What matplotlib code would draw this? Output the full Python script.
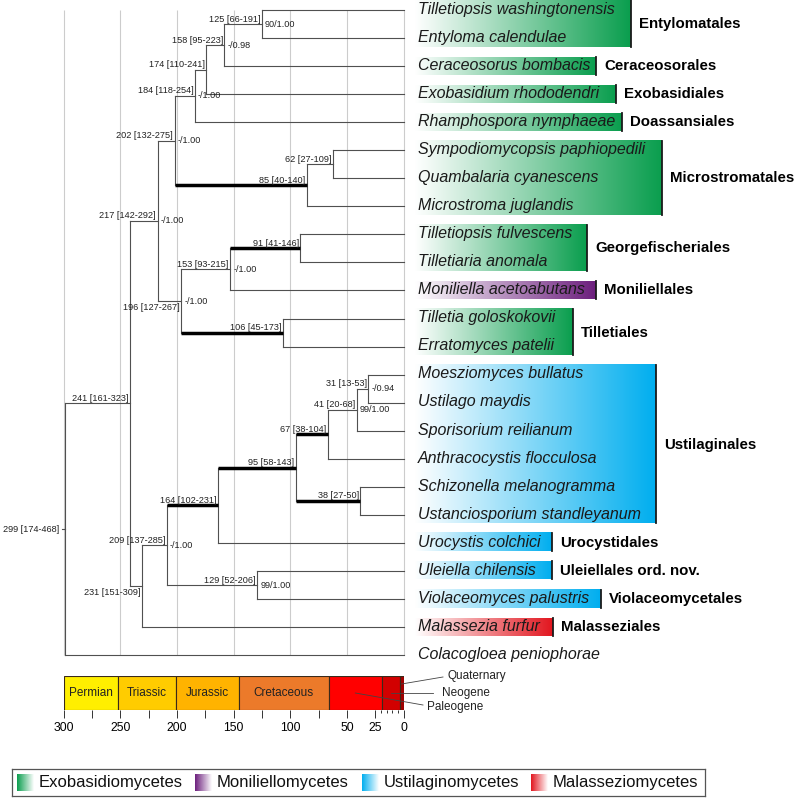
import matplotlib.pyplot as plt
import numpy as np
from matplotlib.colors import to_rgb

plt.rcParams['font.family'] = ['Liberation Sans', 'DejaVu Sans']

# ---- data -------------------------------------------------------------
taxa = ['Tilletiopsis washingtonensis', 'Entyloma calendulae', 'Ceraceosorus bombacis',
        'Exobasidium rhododendri', 'Rhamphospora nymphaeae', 'Sympodiomycopsis paphiopedili',
        'Quambalaria cyanescens', 'Microstroma juglandis', 'Tilletiopsis fulvescens',
        'Tilletiaria anomala', 'Moniliella acetoabutans', 'Tilletia goloskokovii',
        'Erratomyces patelii', 'Moesziomyces bullatus', 'Ustilago maydis',
        'Sporisorium reilianum', 'Anthracocystis flocculosa', 'Schizonella melanogramma',
        'Ustanciosporium standleyanum', 'Urocystis colchici', 'Uleiella chilensis',
        'Violaceomyces palustris', 'Malassezia furfur', 'Colacogloea peniophorae']

# internal nodes (children listed before parents); int child = taxon index
node_names = ['n125', 'n158', 'n174', 'n184', 'n62', 'n85', 'n202', 'n91', 'n153', 'n106',
              'n196', 'n217', 'n31', 'n41', 'n67', 'n38', 'n95', 'n164', 'n129', 'n209',
              'n231', 'n241', 'n299']
node_age = [125, 158, 174, 184, 62, 85, 202, 91, 153, 106, 196, 217, 31, 41, 67, 38, 95,
            164, 129, 209, 231, 241, 299]
node_lo = [66, 95, 110, 118, 27, 40, 132, 41, 93, 45, 127, 142, 13, 20, 38, 27, 58,
           102, 52, 137, 151, 161, 174]
node_hi = [191, 223, 241, 254, 109, 140, 275, 146, 215, 173, 267, 292, 53, 68, 104, 50, 143,
           231, 206, 285, 309, 323, 468]
node_support = ['90/1.00', '-/0.98', '', '-/1.00', '', '', '-/1.00', '', '-/1.00', '',
                '-/1.00', '-/1.00', '-/0.94', '99/1.00', '', '', '', '', '99/1.00', '-/1.00',
                '', '', '']
node_children = [(0, 1), ('n125', 2), ('n158', 3), ('n174', 4), (5, 6), ('n62', 7),
                 ('n184', 'n85'), (8, 9), ('n91', 10), (11, 12), ('n153', 'n106'),
                 ('n202', 'n196'), (13, 14), ('n31', 15), ('n41', 16), (17, 18),
                 ('n67', 'n38'), ('n95', 19), (20, 21), ('n164', 'n129'), ('n209', 22),
                 ('n217', 'n231'), ('n241', 23)]
bold_stems = ['n85', 'n91', 'n106', 'n164', 'n95', 'n67', 'n38']

order_names = ['Entylomatales', 'Ceraceosorales', 'Exobasidiales', 'Doassansiales',
               'Microstromatales', 'Georgefischeriales', 'Moniliellales', 'Tilletiales',
               'Ustilaginales', 'Urocystidales', 'Uleiellales ord. nov.', 'Violaceomycetales',
               'Malasseziales']
order_first = [0, 2, 3, 4, 5, 8, 10, 11, 13, 19, 20, 21, 22]
order_last = [1, 2, 3, 4, 7, 9, 10, 12, 18, 19, 20, 21, 22]
order_class = ['Exobasidiomycetes'] * 6 + ['Moniliellomycetes', 'Exobasidiomycetes'] + \
              ['Ustilaginomycetes'] * 4 + ['Malasseziomycetes']

classes = ['Exobasidiomycetes', 'Moniliellomycetes', 'Ustilaginomycetes', 'Malasseziomycetes']

periods = ['Permian', 'Triassic', 'Jurassic', 'Cretaceous', 'Paleogene', 'Neogene', 'Quaternary']
period_start = [300, 252, 201, 145, 66, 19, 3.5]
period_end = [252, 201, 145, 66, 19, 3.5, 0]

scale_ticks = [300, 275, 250, 225, 200, 175, 150, 125, 100, 75, 50, 25, 0]
scale_labels = ['300', '', '250', '', '200', '', '150', '', '100', '', '50', '25', '0']
scale_minor = [20, 15, 10, 5]

# ---- style / layout ---------------------------------------------------
class_colors = {'Exobasidiomycetes': '#0a9e4e', 'Moniliellomycetes': '#6c1f7d',
                'Ustilaginomycetes': '#00aeef', 'Malasseziomycetes': '#e2161f'}
period_colors = ['#ffef00', '#ffcc00', '#ffb300', '#ec7a2a', '#ff0000', '#d20000', '#a00000']
LINE = '#505050'
GRID = '#cccccc'

W, H = 798, 799
K = 340 / 300          # pixels per Ma
X0 = 403.5             # pixel x of 0 Ma
Y0, DY = 10, 28.05     # pixel y of first taxon, taxon spacing

box_left_px = 415
box_right_px = [631, 596, 616, 622, 662, 587, 596, 573, 656, 552, 552, 601, 553]
taxon_px = 418


def px_to_age(px):
    return (X0 - px) / K


def gradient(color, reverse=False, n=256):
    c = np.array(to_rgb(color))
    t = np.linspace(0, 1, n)
    if reverse:
        t = t[::-1]
    img = 1 - t[:, None] * (1 - c[None, :])
    return img[None, :, :]


fig = plt.figure(figsize=(W / 100, H / 100), dpi=100)
ax = fig.add_axes([0, 0, 1, 1])
ax.axis('off')

# node positions
pos = {}
children = dict(zip(node_names, node_children))


def where(k):
    if isinstance(k, int):
        return 0.0, float(k)
    return pos[k]


for name, age, kids in zip(node_names, node_age, node_children):
    pos[name] = (age, np.mean([where(k)[1] for k in kids]))

# grid
ax.vlines([300, 250, 200, 150, 100, 50, 0], 0, len(taxa) - 1, color=GRID, lw=0.8, zorder=0)

# branches
for name in node_names:
    age, y = pos[name]
    kid_pos = [where(k) for k in children[name]]
    ax.plot([age, age], [kid_pos[0][1], kid_pos[-1][1]], color=LINE, lw=0.8, zorder=2)
    for k, (kx, ky) in zip(children[name], kid_pos):
        if k in bold_stems:
            ax.plot([age, kx], [ky, ky], color='black', lw=2.5, solid_capstyle='butt', zorder=3)
        else:
            ax.plot([age, kx], [ky, ky], color=LINE, lw=0.8, zorder=2)

# node labels
for name, age, lo, hi, sup in zip(node_names, node_age, node_lo, node_hi, node_support):
    _, y = pos[name]
    label = f'{age} [{lo}-{hi}]'
    if name == 'n299':
        ax.text(age + 5 / K, y, label, ha='right', va='center', fontsize=6.6, color='#222')
        ax.plot([age + 3 / K, age], [y, y], color=LINE, lw=0.8)
    elif name in ('n196', 'n231'):
        ax.text(age + 1.5 / K, y + 1.5 / DY, label, ha='right', va='top', fontsize=6.6, color='#222')
    else:
        ax.text(age + 1.5 / K, y - 0.5 / DY, label, ha='right', va='bottom', fontsize=6.6, color='#222')
    if sup:
        ax.text(age - 3 / K, y, sup, ha='left', va='center', fontsize=6.6, color='#222')

# clade boxes and order names
for oname, first, last, cls, right in zip(order_names, order_first, order_last, order_class,
                                          box_right_px):
    top = first - 9.5 / DY
    bottom = last + 8.5 / DY
    ax.imshow(gradient(class_colors[cls]), extent=[px_to_age(box_left_px), px_to_age(right),
              bottom, top], aspect='auto', interpolation='bilinear', zorder=1)
    ax.plot([px_to_age(right)] * 2, [top, bottom], color='#1a1a1a', lw=1.3, zorder=2)
    ax.text(px_to_age(right + 8), (first + last) / 2 + 4 / DY, oname, ha='left', va='baseline',
            fontsize=10.8, fontweight='bold', color='black')

# taxon names
for i, t in enumerate(taxa):
    ax.text(px_to_age(taxon_px), i + 3.8 / DY, t, ha='left', va='baseline', fontsize=11.5,
            fontstyle='italic', color='#1a1a1a', zorder=4)

ax.set_xlim(X0 / K, (X0 - W) / K)
ax.set_ylim((H - Y0) / DY, -Y0 / DY)

# ---- geological time scale --------------------------------------------
tax = fig.add_axes([(X0 - 340) / W, 1 - 710 / H, 340 / W, 34 / H])
for p, s, e, c in zip(periods, period_start, period_end, period_colors):
    tax.barh(0.5, s - e, left=e, height=1, color=c, edgecolor='#3a2a1a', lw=0.8)
for p, s, e in zip(periods[:4], period_start[:4], period_end[:4]):
    tax.text((s + e) / 2, 0.5, p, ha='center', va='center', fontsize=8.5, color='#222')

callouts = {'Quaternary': ((710 - 684) / 34, 443, (710 - 677) / 34, 447, (710 - 676) / 34),
            'Neogene': (0.5, 433, 0.5, 442, 0.5),
            'Paleogene': ((710 - 693) / 34, 423, (710 - 705) / 34, 427, (710 - 707) / 34)}
for p, s, e in zip(periods, period_start, period_end):
    if p in callouts:
        yi, xo, yo, xt, yt = callouts[p]
        tax.plot([(s + e) / 2, px_to_age(xo)], [yi, yo], color='#444', lw=0.6, clip_on=False)
        tax.text(px_to_age(xt), yt, p, ha='left', va='center', fontsize=8.5, color='#222',
                 clip_on=False)

tax.set_xlim(300, 0)
tax.set_ylim(0, 1)
tax.set_xticks(scale_ticks)
tax.set_xticklabels(scale_labels)
tax.set_xticks(scale_minor, minor=True)
tax.tick_params(axis='x', which='major', length=5.8, width=0.7, color='#333',
                labelsize=8.8, pad=3)
tax.tick_params(axis='x', which='minor', length=2.3, width=0.7, color='#333')
tax.set_yticks([])
for s in tax.spines.values():
    s.set_visible(False)

# ---- legend -----------------------------------------------------------
lax = fig.add_axes([12 / W, 1 - 796 / H, 693 / W, 27 / H])
legend_x = [5, 183, 350, 519]
for cls, x in zip(classes, legend_x):
    lax.imshow(gradient(class_colors[cls], reverse=True), extent=[x, x + 17, 22, 5],
               aspect='auto', interpolation='bilinear')
    lax.text(x + 22, 13.5, cls, ha='left', va='center', fontsize=12, color='#111')
lax.set_xlim(0, 693)
lax.set_ylim(27, 0)
lax.set_xticks([])
lax.set_yticks([])
for s in lax.spines.values():
    s.set_color('#555')
    s.set_linewidth(0.9)

fig.savefig('out.png', dpi=100)
